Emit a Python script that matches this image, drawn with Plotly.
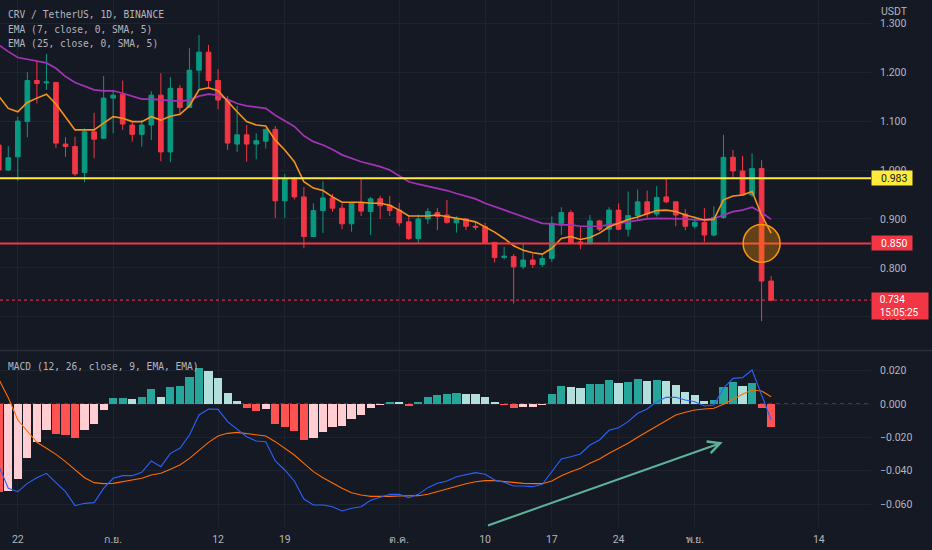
import plotly.graph_objects as go
import pandas as pd

# ---------------- data ----------------
start_date = "2022-08-20"
n_days = 82
dates = pd.date_range(start_date, periods=n_days, freq="D")

opens = [1.051, 1.000, 1.027, 1.099, 1.183, 1.178, 1.179, 1.053, 1.048, 0.995,
         1.078, 1.065, 1.147, 1.155, 1.092, 1.073, 1.092, 1.153, 1.037, 1.167,
         1.128, 1.204, 1.241, 1.183, 1.143, 1.053, 1.072, 1.053, 1.059, 1.083,
         0.937, 0.983, 0.945, 0.864, 0.917, 0.943, 0.922, 0.890, 0.932, 0.915,
         0.941, 0.928, 0.918, 0.894, 0.860, 0.900, 0.913, 0.908, 0.892, 0.900,
         0.885, 0.884, 0.852, 0.821, 0.823, 0.802, 0.816, 0.807, 0.819, 0.891,
         0.913, 0.853, 0.849, 0.896, 0.879, 0.918, 0.879, 0.907, 0.935, 0.910,
         0.945, 0.935, 0.910, 0.885, 0.893, 0.867, 0.903, 1.026, 0.998, 0.949,
         1.003, 0.773]
highs = [1.062, 1.049, 1.109, 1.200, 1.224, 1.237, 1.180, 1.067, 1.068, 1.085,
         1.117, 1.192, 1.164, 1.183, 1.100, 1.102, 1.161, 1.198, 1.190, 1.174,
         1.249, 1.276, 1.256, 1.206, 1.151, 1.131, 1.092, 1.075, 1.085, 1.090,
         0.992, 0.986, 0.965, 0.932, 0.977, 0.951, 0.932, 0.935, 0.984, 0.945,
         0.947, 0.947, 0.933, 0.908, 0.909, 0.922, 0.922, 0.939, 0.905, 0.901,
         0.894, 0.892, 0.852, 0.843, 0.828, 0.850, 0.828, 0.826, 0.905, 0.924,
         0.918, 0.884, 0.908, 0.898, 0.924, 0.932, 0.956, 0.960, 0.958, 0.967,
         0.983, 0.935, 0.920, 0.905, 0.922, 0.926, 1.072, 1.041, 1.029, 1.034,
         1.020, 0.783]
lows = [0.990, 0.998, 0.978, 1.067, 1.136, 1.164, 1.045, 1.027, 0.988, 0.975,
        1.024, 1.064, 1.075, 1.082, 1.058, 1.048, 1.061, 1.018, 1.016, 1.112,
        1.128, 1.165, 1.167, 1.124, 1.041, 1.037, 1.017, 1.022, 1.044, 0.902,
        0.902, 0.940, 0.840, 0.863, 0.871, 0.915, 0.879, 0.874, 0.906, 0.867,
        0.900, 0.906, 0.885, 0.857, 0.850, 0.890, 0.877, 0.890, 0.872, 0.877,
        0.877, 0.849, 0.811, 0.817, 0.727, 0.797, 0.800, 0.802, 0.812, 0.867,
        0.850, 0.838, 0.849, 0.875, 0.853, 0.877, 0.864, 0.898, 0.900, 0.905,
        0.932, 0.885, 0.877, 0.880, 0.853, 0.864, 0.900, 0.985, 0.947, 0.945,
        0.691, 0.732]
closes = [1.000, 1.025, 1.100, 1.183, 1.177, 1.180, 1.055, 1.048, 0.992, 1.078,
          1.063, 1.147, 1.153, 1.094, 1.073, 1.092, 1.153, 1.037, 1.167, 1.128,
          1.204, 1.241, 1.183, 1.143, 1.055, 1.072, 1.053, 1.060, 1.083, 0.937,
          0.983, 0.945, 0.864, 0.917, 0.943, 0.922, 0.890, 0.932, 0.916, 0.941,
          0.927, 0.917, 0.892, 0.860, 0.900, 0.915, 0.905, 0.893, 0.901, 0.885,
          0.883, 0.852, 0.821, 0.824, 0.802, 0.816, 0.807, 0.819, 0.891, 0.913,
          0.851, 0.849, 0.896, 0.879, 0.918, 0.879, 0.907, 0.935, 0.910, 0.944,
          0.935, 0.908, 0.885, 0.893, 0.867, 0.903, 1.026, 0.998, 0.949, 1.003,
          0.773, 0.734]

ema7 = [1.151, 1.126, 1.119, 1.138, 1.147, 1.155, 1.135, 1.109, 1.082, 1.082,
        1.082, 1.096, 1.109, 1.106, 1.099, 1.099, 1.109, 1.102, 1.110, 1.114,
        1.131, 1.164, 1.168, 1.162, 1.140, 1.119, 1.099, 1.092, 1.090, 1.061,
        1.041, 1.017, 0.976, 0.963, 0.958, 0.945, 0.934, 0.934, 0.934, 0.932,
        0.932, 0.928, 0.918, 0.906, 0.906, 0.906, 0.908, 0.905, 0.901, 0.898,
        0.894, 0.884, 0.873, 0.860, 0.845, 0.836, 0.831, 0.828, 0.840, 0.860,
        0.864, 0.858, 0.862, 0.871, 0.884, 0.891, 0.899, 0.904, 0.911, 0.917,
        0.918, 0.915, 0.908, 0.903, 0.898, 0.899, 0.939, 0.947, 0.949, 0.956,
        0.908, 0.871]
ema25 = [1.256, 1.242, 1.230, 1.226, 1.223, 1.219, 1.208, 1.191, 1.179, 1.172,
         1.164, 1.162, 1.162, 1.157, 1.151, 1.145, 1.145, 1.143, 1.142, 1.141,
         1.143, 1.151, 1.155, 1.153, 1.145, 1.136, 1.131, 1.128, 1.126, 1.112,
         1.101, 1.089, 1.070, 1.058, 1.051, 1.042, 1.031, 1.024, 1.017, 1.012,
         1.007, 1.000, 0.988, 0.976, 0.971, 0.967, 0.963, 0.958, 0.952, 0.947,
         0.941, 0.932, 0.925, 0.918, 0.911, 0.904, 0.898, 0.891, 0.890, 0.888,
         0.888, 0.885, 0.885, 0.885, 0.888, 0.891, 0.894, 0.898, 0.900, 0.901,
         0.901, 0.901, 0.900, 0.898, 0.898, 0.901, 0.908, 0.915, 0.918, 0.924,
         0.913, 0.899]

macd_line = [-0.0370, -0.0506, -0.0526, -0.0476, -0.0442, -0.0416, -0.0472, -0.0526, -0.0610, -0.0596,
             -0.0592, -0.0506, -0.0446, -0.0430, -0.0430, -0.0410, -0.0342, -0.0376, -0.0296, -0.0266,
             -0.0186, -0.0066, -0.0030, -0.0032, -0.0106, -0.0150, -0.0196, -0.0222, -0.0226, -0.0342,
             -0.0396, -0.0462, -0.0570, -0.0606, -0.0606, -0.0616, -0.0642, -0.0626, -0.0616, -0.0578,
             -0.0558, -0.0542, -0.0542, -0.0562, -0.0542, -0.0502, -0.0476, -0.0462, -0.0436, -0.0426,
             -0.0412, -0.0422, -0.0456, -0.0470, -0.0492, -0.0492, -0.0496, -0.0482, -0.0406, -0.0330,
             -0.0316, -0.0300, -0.0246, -0.0216, -0.0158, -0.0142, -0.0106, -0.0056, -0.0030, 0.0014,
             0.0040, 0.0040, 0.0024, 0.0014, -0.0012, -0.0006, 0.0094, 0.0154, 0.0158, 0.0204,
             0.0054, -0.0096]
signal_line = [0.0150, 0.0038, -0.0096, -0.0162, -0.0230, -0.0266, -0.0302, -0.0346, -0.0396, -0.0442,
               -0.0472, -0.0478, -0.0476, -0.0466, -0.0458, -0.0446, -0.0426, -0.0416, -0.0392, -0.0366,
               -0.0326, -0.0276, -0.0230, -0.0192, -0.0176, -0.0170, -0.0176, -0.0186, -0.0192, -0.0226,
               -0.0266, -0.0306, -0.0356, -0.0406, -0.0442, -0.0476, -0.0506, -0.0532, -0.0546, -0.0554,
               -0.0556, -0.0554, -0.0552, -0.0552, -0.0550, -0.0542, -0.0526, -0.0510, -0.0492, -0.0478,
               -0.0466, -0.0460, -0.0460, -0.0466, -0.0470, -0.0476, -0.0478, -0.0478, -0.0462, -0.0430,
               -0.0406, -0.0386, -0.0356, -0.0330, -0.0296, -0.0266, -0.0236, -0.0200, -0.0166, -0.0132,
               -0.0098, -0.0066, -0.0050, -0.0036, -0.0030, -0.0026, -0.0002, 0.0030, 0.0058, 0.0084,
               0.0078, 0.0044]
macd_hist = [-0.0526, -0.0522, -0.0450, -0.0326, -0.0230, -0.0156, -0.0180, -0.0186, -0.0206, -0.0156,
             -0.0122, -0.0036, 0.0034, 0.0038, 0.0030, 0.0040, 0.0088, 0.0044, 0.0100, 0.0108,
             0.0160, 0.0214, 0.0200, 0.0154, 0.0064, 0.0020, -0.0022, -0.0040, -0.0032, -0.0120,
             -0.0136, -0.0160, -0.0216, -0.0202, -0.0166, -0.0136, -0.0132, -0.0092, -0.0066, -0.0026,
             -0.0004, 0.0014, 0.0010, -0.0010, 0.0010, 0.0040, 0.0054, 0.0058, 0.0066, 0.0060,
             0.0059, 0.0040, 0.0012, -0.0006, -0.0026, -0.0020, -0.0019, -0.0006, 0.0058, 0.0110,
             0.0104, 0.0098, 0.0118, 0.0120, 0.0144, 0.0128, 0.0132, 0.0150, 0.0138, 0.0146,
             0.0140, 0.0112, 0.0074, 0.0054, 0.0020, 0.0022, 0.0102, 0.0130, 0.0108, 0.0124,
             -0.0026, -0.0136]

level_yellow = 0.983
level_red = 0.850
countdown = "15:05:25"

x_tick_dates = ["2022-08-22", "2022-09-01", "2022-09-12", "2022-09-19", "2022-10-01",
                "2022-10-10", "2022-10-17", "2022-10-24", "2022-11-01", "2022-11-14"]
x_tick_labels = ["22", "ก.ย.", "12", "19", "ต.ค.", "10", "17", "24", "พ.ย.", "14"]
price_ticks = [0.7, 0.8, 0.9, 1.0, 1.1, 1.2, 1.3]
macd_ticks = [-0.06, -0.04, -0.02, 0.0, 0.02]

# trend arrow drawn on the MACD pane (start -> tip)
arrow_start = ("2022-10-10 03:30", -0.0732)
arrow_tip = ("2022-11-03 22:00", -0.0230)

# ---------------- style ----------------
BG = "#151924"
GRID = "#1F2330"
TXT = "#B2B5BE"
UP = "#089981"
DOWN = "#F23645"
FONT = "Roboto"
MONO = "DejaVu Sans Mono"
LEAD = "\u2002\u2005"

PLOT_W, PLOT_H = 871, 527

def hist_colors(vals):
    cols = []
    prev = None
    for v in vals:
        if v >= 0:
            cols.append("#26A69A" if (prev is None or v > prev) else "#B2DFDB")
        else:
            cols.append("#FF5252" if (prev is None or v < prev) else "#FFCDD2")
        prev = v
    return cols

fig = go.Figure()

fig.add_trace(go.Candlestick(
    x=dates, open=opens, high=highs, low=lows, close=closes,
    xaxis="x2", yaxis="y",
    increasing=dict(line=dict(color=UP, width=1), fillcolor=UP),
    decreasing=dict(line=dict(color=DOWN, width=1), fillcolor=DOWN),
    whiskerwidth=0, hoverinfo="skip", showlegend=False,
))
fig.add_trace(go.Scatter(x=dates, y=ema25, mode="lines", xaxis="x2", yaxis="y",
                         line=dict(color="#A233B5", width=1.7), hoverinfo="skip", showlegend=False))
fig.add_trace(go.Scatter(x=dates, y=ema7, mode="lines", xaxis="x2", yaxis="y",
                         line=dict(color="#F7931A", width=1.6), hoverinfo="skip", showlegend=False))

fig.add_trace(go.Bar(x=dates, y=macd_hist, xaxis="x", yaxis="y2",
                     marker=dict(color=hist_colors(macd_hist), line=dict(width=0)),
                     width=0.86 * 86400000, hoverinfo="skip", showlegend=False))
fig.add_trace(go.Scatter(x=dates, y=signal_line, mode="lines", xaxis="x", yaxis="y2",
                         line=dict(color="#FF6D00", width=1.1), hoverinfo="skip", showlegend=False))
fig.add_trace(go.Scatter(x=dates, y=macd_line, mode="lines", xaxis="x", yaxis="y2",
                         line=dict(color="#2962FF", width=1.1), hoverinfo="skip", showlegend=False))

x_range = ["2022-08-20 03:10", "2022-11-19 11:20"]

axis_common = dict(type="date", range=x_range, tickvals=x_tick_dates, ticktext=x_tick_labels,
                   showgrid=True, gridcolor=GRID, gridwidth=1, zeroline=False, showline=False,
                   ticks="", rangeslider=dict(visible=False), fixedrange=True)

fig.update_layout(
    width=932, height=550,
    margin=dict(l=0, r=932 - PLOT_W, t=0, b=550 - PLOT_H),
    paper_bgcolor=BG, plot_bgcolor=BG,
    font=dict(family=FONT, size=10.5, color=TXT),
    hovermode=False, showlegend=False, bargap=0,
    xaxis=dict(**axis_common, anchor="y2", ticklabelstandoff=4,
               tickfont=dict(family=FONT, size=10.5, color=TXT)),
    xaxis2=dict(**axis_common, anchor="y", matches="x", showticklabels=False),
    yaxis=dict(domain=[(PLOT_H - 350) / PLOT_H, 1.0], anchor="x2", side="right",
               range=[0.632, 1.3476], tickvals=price_ticks, tickformat=".3f",
               showgrid=True, gridcolor=GRID, zeroline=False, ticks="", ticklabelstandoff=8,
               fixedrange=True),
    yaxis2=dict(domain=[0.0, (PLOT_H - 351) / PLOT_H], anchor="x", side="right",
                range=[-0.0738, 0.0318], tickvals=macd_ticks, tickformat=".3f",
                showgrid=True, gridcolor=GRID, zeroline=False, ticks="", ticklabelstandoff=8,
                fixedrange=True),
)

shapes = []
# pane separator
shapes.append(dict(type="line", xref="paper", yref="paper", x0=0, x1=932 / PLOT_W,
                   y0=(PLOT_H - 350.5) / PLOT_H, y1=(PLOT_H - 350.5) / PLOT_H,
                   line=dict(color="#2A2E39", width=1.5), layer="above"))
# MACD zero dashed line
shapes.append(dict(type="line", xref="x domain", yref="y2", x0=0, x1=1, y0=0, y1=0,
                   line=dict(color="rgba(120,123,134,0.75)", width=1, dash="4px,4px"), layer="below"))
# horizontal levels
shapes.append(dict(type="line", xref="x2 domain", yref="y", x0=0, x1=1, y0=level_yellow, y1=level_yellow,
                   line=dict(color="#FFEB3B", width=2), layer="above"))
shapes.append(dict(type="line", xref="x2 domain", yref="y", x0=0, x1=1, y0=level_red, y1=level_red,
                   line=dict(color="#F23645", width=2), layer="above"))
shapes.append(dict(type="line", xref="x2 domain", yref="y", x0=0, x1=1, y0=closes[-1], y1=closes[-1],
                   line=dict(color="#F23645", width=1, dash="dot"), layer="above"))
# highlight circle on the breakdown candle
c_center = dates[80]
half_days = pd.Timedelta(hours=46.5)
shapes.append(dict(type="circle", xref="x2", yref="y",
                   x0=c_center - half_days, x1=c_center + half_days,
                   y0=level_red - 0.0385, y1=level_red + 0.0385,
                   line=dict(color="#FF9800", width=1.5), fillcolor="rgba(255,152,0,0.32)", layer="above"))
fig.update_layout(shapes=shapes)

ann = []
def paper_y(py):
    return 1 - py / PLOT_H

legend_lines = ["CRV / TetherUS, 1D, BINANCE", "EMA (7, close, 0, SMA, 5)", "EMA (25, close, 0, SMA, 5)"]
for txt, py in zip(legend_lines, [15, 29.5, 43.5]):
    ann.append(dict(text=txt, xref="paper", yref="paper", x=6 / PLOT_W, y=paper_y(py),
                    xanchor="left", yanchor="middle", showarrow=False,
                    font=dict(family=MONO, size=9.6, color=TXT)))
ann.append(dict(text="MACD (12, 26, close, 9, EMA, EMA)", xref="paper", yref="paper",
                x=6 / PLOT_W, y=paper_y(366.5), xanchor="left", yanchor="middle", showarrow=False,
                font=dict(family=MONO, size=9.6, color=TXT)))
ann.append(dict(text="USDT", xref="paper", yref="paper", x=879 / PLOT_W, y=paper_y(11.5),
                xanchor="left", yanchor="middle", showarrow=False,
                font=dict(family=FONT, size=10.5, color=TXT)))
# price labels on the axis
ann.append(dict(text=LEAD + f"{level_yellow:.3f}", xref="paper", yref="y", x=1.0, y=level_yellow,
                xanchor="left", yanchor="middle", showarrow=False, align="left",
                width=38, height=12, borderpad=1, bgcolor="#FFEB3B",
                font=dict(family=FONT, size=10.5, color="#131722")))
ann.append(dict(text=LEAD + f"{level_red:.3f}", xref="paper", yref="y", x=1.0, y=level_red,
                xanchor="left", yanchor="middle", showarrow=False, align="left",
                width=38, height=12, borderpad=1, bgcolor="#F23645",
                font=dict(family=FONT, size=10.5, color="#FFFFFF")))
ann.append(dict(text=LEAD + f"{closes[-1]:.3f}" + "<br>" + LEAD + countdown, xref="paper", yref="y",
                x=1.0, y=closes[-1], xanchor="left", yanchor="top", yshift=8, showarrow=False,
                align="left", width=56, height=26, borderpad=0, bgcolor="#F23645",
                font=dict(family=FONT, size=10, color="#FFFFFF")))
# trend arrow
ann.append(dict(text="", x=arrow_tip[0], y=arrow_tip[1], xref="x", yref="y2",
                ax=arrow_start[0], ay=arrow_start[1], axref="x", ayref="y2",
                showarrow=True, arrowhead=5, arrowsize=1.2, arrowwidth=2, arrowcolor="#5DB39A"))
fig.update_layout(annotations=ann)

fig.write_html(
    "out.html",
    config={"displayModeBar": False, "staticPlot": True},
    post_script="document.body.style.margin='0';document.body.style.padding='0';"
                "document.documentElement.style.background='" + BG + "';"
                "document.body.style.overflow='hidden';",
)
